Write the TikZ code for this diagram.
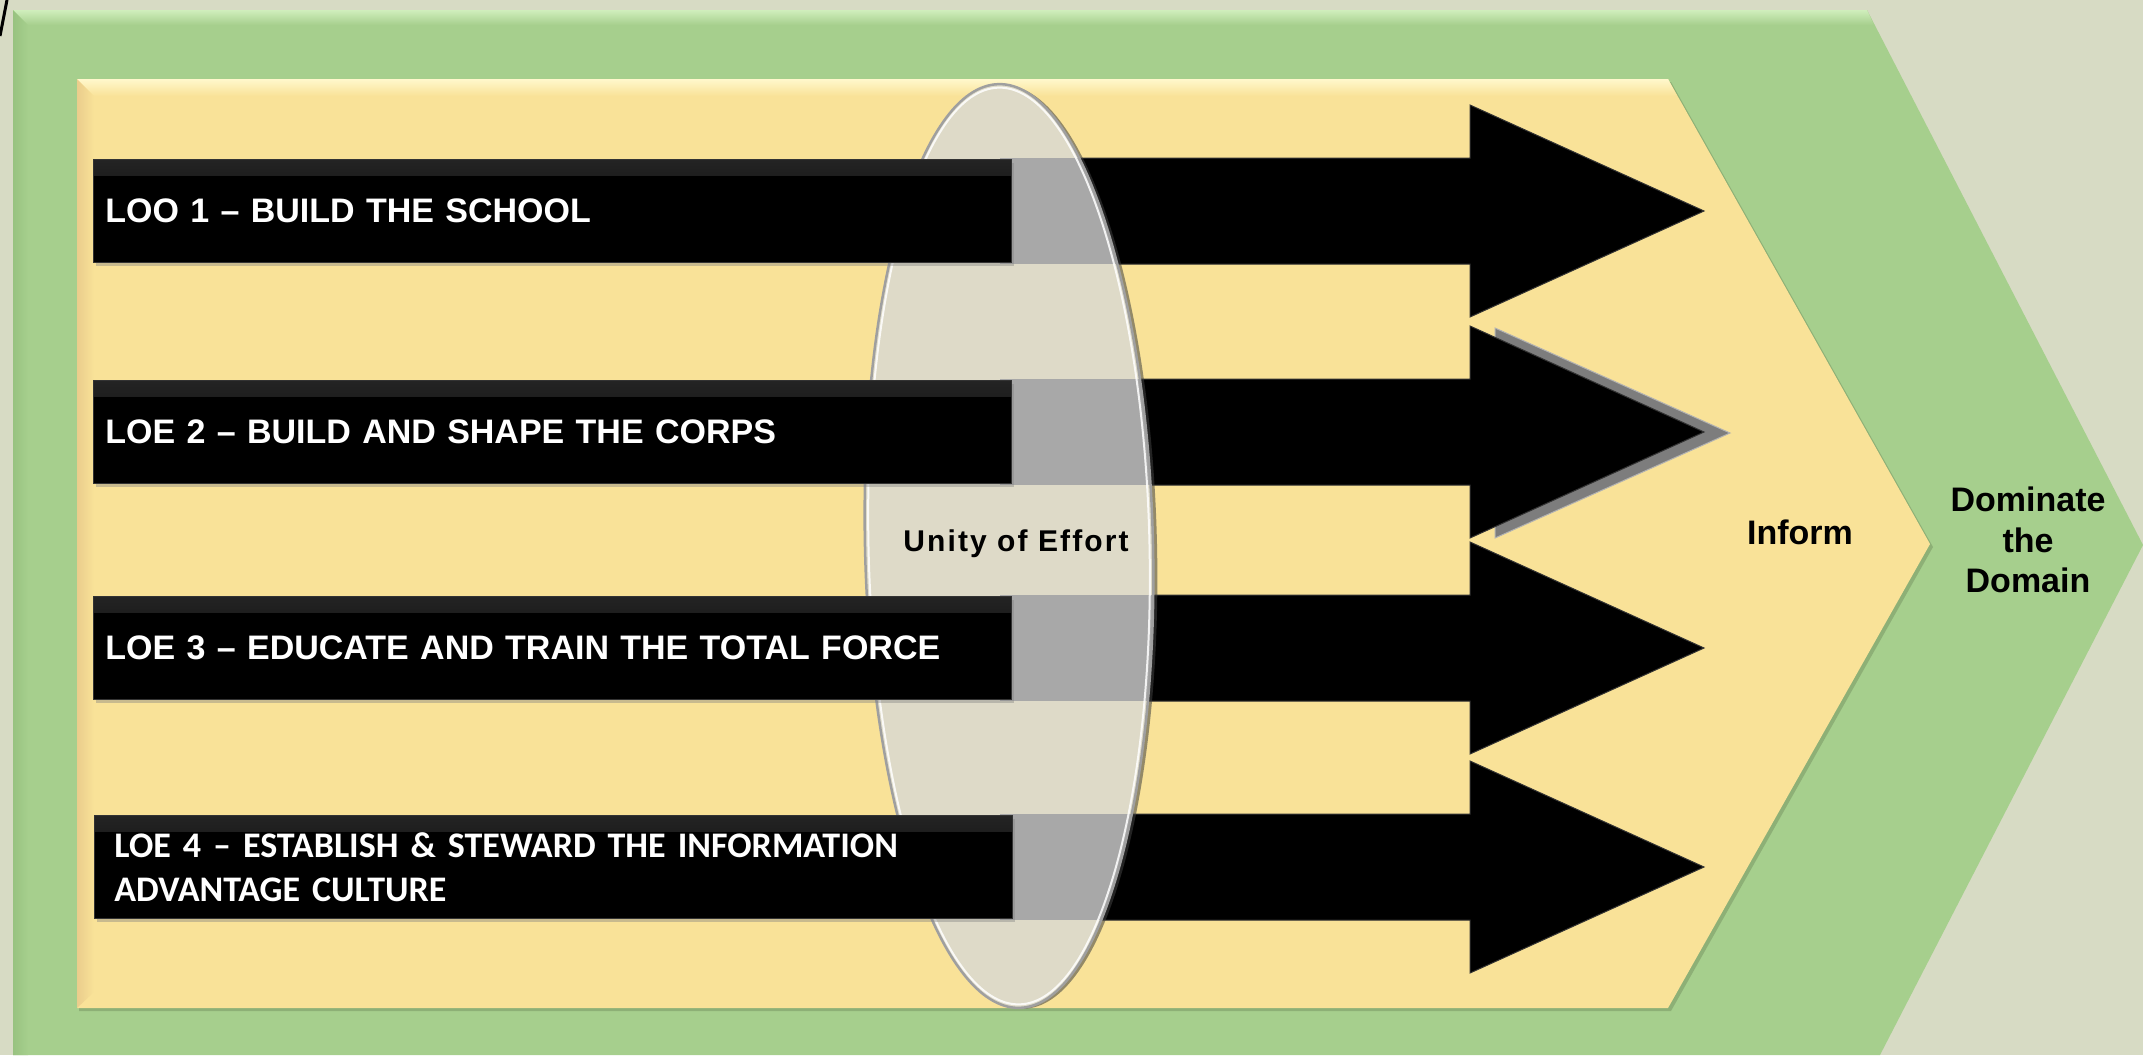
\documentclass[tikz,border=0pt]{standalone}
\usepackage{fontspec}
\setmainfont{Liberation Sans}
\newfontfamily\calib{Carlito}
\newfontfamily\unityfont[LetterSpace=7]{Liberation Sans}
\usetikzlibrary{shadows}
\definecolor{bg}{RGB}{215,219,196}
\definecolor{grn}{RGB}{166,207,141}
\definecolor{grnlt}{RGB}{208,238,188}
\definecolor{grndk}{RGB}{152,194,128}
\definecolor{ylw}{RGB}{249,226,152}
\definecolor{ylwlt}{RGB}{255,248,204}
\definecolor{ylwdk}{RGB}{234,205,140}
\definecolor{ylwsh}{RGB}{112,140,92}
\definecolor{ell}{RGB}{222,218,200}
\definecolor{shaftgray}{RGB}{168,168,168}
\definecolor{headgray}{RGB}{125,125,125}
\begin{document}
\begin{tikzpicture}[x=1pt,y=-1pt,
  loebox/.style={fill=black, draw=black!80, line width=0.8pt,
    minimum height=103pt, minimum width=918pt, anchor=west,
    text=white, align=left, inner ysep=0pt,
    drop shadow={shadow xshift=3pt,shadow yshift=-3pt,opacity=.4},
    path picture={\shade[top color=black!86, bottom color=black]
      (path picture bounding box.north west) rectangle
      ([yshift=-16pt]path picture bounding box.north east);}},
  arialtxt/.style={font=\bfseries\fontsize{34}{40}\selectfont},
  calibtxt/.style={font=\calib\bfseries\fontsize{36}{44}\selectfont},
  arrowblk/.style={fill=black, draw=black!80, line width=1pt, line join=miter},
  labeltxt/.style={font=\bfseries\fontsize{34}{40.5}\selectfont, text=black, inner sep=0pt},
  ellrot/.style={rotate around={1.3:(1009,546)}}
]
\useasboundingbox (0,0) rectangle (2143,1055);
% background
\fill[bg] (0,0) rectangle (2143,1055);
\draw[line width=3pt] (0,36) -- (7,0);

% green chevron
\fill[grn] (13,10) -- (1867,10) -- (2143,545) -- (1880,1055) -- (13,1055) -- cycle;
\shade[top color=grnlt, bottom color=grn] (13,10) -- (1867,10) -- (1874,25) -- (28,25) -- cycle;
\shade[left color=grndk, right color=grn] (13,10) -- (28,25) -- (28,1055) -- (13,1055) -- cycle;

% yellow chevron
\fill[ylwsh, opacity=.45] (79,82) -- (1671,82) -- (1933,547) -- (1671,1011) -- (79,1011) -- cycle;
\fill[ylw] (77,79) -- (1668,79) -- (1930,544) -- (1668,1008) -- (77,1008) -- cycle;
\shade[top color=ylwlt, bottom color=ylw] (77,79) -- (1668,79) -- (1677,96) -- (94,96) -- cycle;
\shade[left color=ylwdk, right color=ylw] (77,79) -- (94,96) -- (94,992) -- (77,1008) -- cycle;

% shadow head of arrow 2
\fill[headgray, draw=gray!60, line width=1pt] (1495,328) -- (1730,433) -- (1495,538) -- cycle;

% arrows
\foreach \cy in {211,432,648,867}{
  \draw[arrowblk] (1000,\cy-53) -- (1470,\cy-53) -- (1470,\cy-106) -- (1704,\cy)
     -- (1470,\cy+106) -- (1470,\cy+53) -- (1000,\cy+53) -- cycle;
}

% ellipse (unity of effort)
\fill[black!75, opacity=.55, ellrot] (1013,547) ellipse [x radius=144, y radius=462];
\fill[ell, ellrot] (1009,546) ellipse [x radius=144, y radius=462];
\begin{scope}
  \clip[ellrot] (1009,546) ellipse [x radius=144, y radius=462];
  \foreach \cy in {211,432,648,867}{
    \fill[shaftgray] (1000,\cy-53) rectangle (1200,\cy+53);
  }
\end{scope}
\draw[gray!75, line width=2.5pt, ellrot] (1009,546) ellipse [x radius=144, y radius=462];
\draw[white, opacity=.85, line width=2pt, ellrot] (1009,546) ellipse [x radius=140.5, y radius=458.5];
\node[font=\unityfont\bfseries\fontsize{30}{34}\selectfont, inner sep=0pt] (unity) at (1016,544) {Unity of Effort};

% LOE boxes
\node[loebox, arialtxt, text width=894pt, inner xsep=12pt] (b1) at (93,211) {LOO 1 – BUILD THE SCHOOL};
\node[loebox, arialtxt, text width=894pt, inner xsep=12pt] (b2) at (93,432) {LOE 2 – BUILD AND SHAPE THE CORPS};
\node[loebox, arialtxt, text width=894pt, inner xsep=12pt] (b3) at (93,648) {LOE 3 – EDUCATE AND TRAIN THE TOTAL FORCE};
\node[loebox, calibtxt, text width=878pt, inner xsep=20pt] (b4) at (94,867) {LOE 4 – ESTABLISH \& STEWARD THE INFORMATION\\ADVANTAGE CULTURE};

% outcome labels
\node[labeltxt] (inform) at (1800,532) {Inform};
\node[labeltxt, font=\bfseries\fontsize{34}{40.5}\selectfont, align=center] (dominate) at (2028,540) {Dominate\\the\\Domain};
\end{tikzpicture}
\end{document}
